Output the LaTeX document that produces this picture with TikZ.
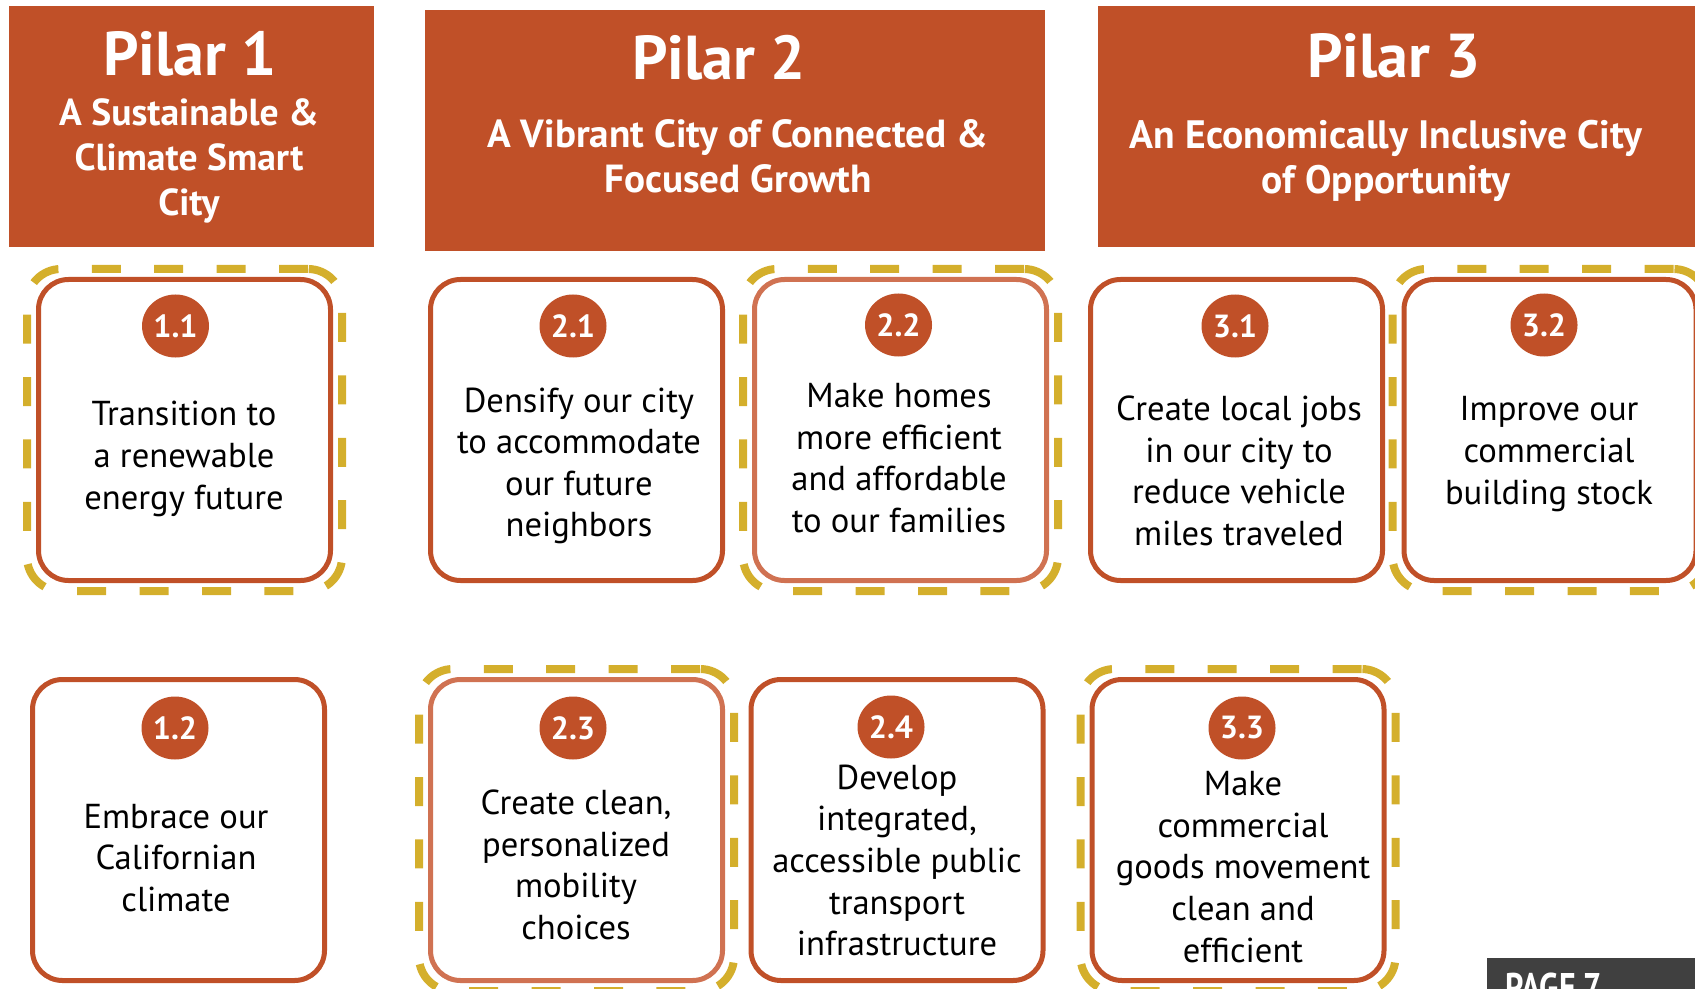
\documentclass[tikz,border=0pt]{standalone}
\usepackage{fontspec}
\setmainfont{PT Sans}
\usetikzlibrary{shapes.geometric,fit}
\definecolor{rust}{RGB}{192,80,40}
\definecolor{rustlight}{RGB}{208,114,82}
\definecolor{gold}{RGB}{212,175,44}
\definecolor{tabgray}{RGB}{64,64,64}

\begin{document}
\begin{tikzpicture}[x=0.5pt, y=-0.5pt,
    pillar/.style={rectangle, fill=rust, inner sep=0pt, minimum height=120.5pt},
    ptitle/.style={text=white, inner sep=0pt, font=\bfseries\fontsize{31}{34}\selectfont},
    psub/.style={text=white, inner sep=0pt, align=center, font=\bfseries\fontsize{18.8}{22.3}\selectfont},
    goal/.style={rectangle, draw=rust, line width=2.5pt, fill=white, rounded corners=15pt, minimum width=146pt, minimum height=150.5pt, inner sep=0pt},
    goalsoft/.style={goal, draw=rustlight},
    num/.style={ellipse, fill=rust, text=white, inner sep=0pt, minimum width=33.5pt, minimum height=31.5pt, font=\bfseries\fontsize{16}{16}\selectfont},
    desc/.style={align=center, inner sep=0pt, font=\fontsize{17.3}{20.8}\selectfont},
    focus/.style={draw=gold, line width=4pt, dash pattern=on 14.5pt off 16.7pt, rounded corners=17pt, inner xsep=4.5pt, inner ysep=4pt}
]
    \useasboundingbox (0,0) rectangle (1695,989);
    \clip (0,0) rectangle (1695,989);

    % pillar headers
    \node[pillar, minimum width=182.5pt] (p1) at (191.5,126.5) {};
    \node[pillar, minimum width=310pt] (p2) at (735,131) {};
    \node[pillar, minimum width=311pt] (p3) at (1409,127) {};

    \node[ptitle] (t1) at (190,54) {Pilar 1};
    \node[ptitle] (t2) at (719,58) {Pilar 2};
    \node[ptitle] (t3) at (1394,56) {Pilar 3};

    \node[psub] (s1) at (189,161) {A Sustainable \&\\Climate Smart\\City};
    \node[psub, font=\bfseries\fontsize{19.6}{22.3}\selectfont] (s2) at (738,156) {A Vibrant City of Connected \&\\Focused Growth};
    \node[psub, font=\bfseries\fontsize{19.8}{22.3}\selectfont] (s3) at (1386,161) {An Economically Inclusive City\\of Opportunity};

    % goal boxes
    \node[goal] (b11) at (184.5,430) {};
    \node[goal] (b21) at (576.5,430) {};
    \node[goalsoft] (b22) at (900.5,430) {};
    \node[goal] (b31) at (1236.5,430) {};
    \node[goal] (b32) at (1550,430) {};
    \node[goal] (b12) at (178.5,830) {};
    \node[goalsoft] (b23) at (576.5,830) {};
    \node[goal] (b24) at (897,830) {};
    \node[goal] (b33) at (1238,830) {};

    % dashed focus frames
    \node[focus, fit=(b11)] (f11) {};
    \node[focus, fit=(b22)] (f22) {};
    \node[focus, fit=(b32)] (f32) {};
    \node[focus, fit=(b23)] (f23) {};
    \node[focus, fit=(b33)] (f33) {};

    % numbers
    \node[num] (n11) at (175.5,326) {1.1};
    \node[num] (n21) at (573,326) {2.1};
    \node[num] (n22) at (898.5,325) {2.2};
    \node[num] (n31) at (1235,326) {3.1};
    \node[num] (n32) at (1544,325) {3.2};
    \node[num] (n12) at (175,728) {1.2};
    \node[num] (n23) at (573,728) {2.3};
    \node[num] (n24) at (891,727) {2.4};
    \node[num] (n33) at (1242,728) {3.3};

    % descriptions
    \node[desc] (d11) at (184,459) {Transition to\\a renewable\\energy future};
    \node[desc] (d21) at (579,466) {Densify our city\\to accommodate\\our future\\neighbors};
    \node[desc] (d22) at (899,458) {Make homes\\more efficient\\and affordable\\to our families};
    \node[desc] (d31) at (1239,471) {Create local jobs\\in our city to\\reduce vehicle\\miles traveled};
    \node[desc] (d32) at (1549,454) {Improve our\\commercial\\building stock};
    \node[desc] (d12) at (176,858) {Embrace our\\Californian\\climate};
    \node[desc] (d23) at (576,865) {Create clean,\\personalized\\mobility\\choices};
    \node[desc] (d24) at (897,860.5) {Develop\\integrated,\\accessible public\\transport\\infrastructure};
    \node[desc] (d33) at (1243,867) {Make\\commercial\\goods movement\\clean and\\efficient};

    % page tab
    \node[fill=tabgray, anchor=north west, minimum width=110pt, minimum height=20pt, inner sep=0pt] (tab) at (1487,958) {};
    \node[text=white, anchor=base west, inner sep=0pt, font=\bfseries\fontsize{20}{20}\selectfont] (tabtext) at (1505,1001) {\scalebox{0.8}[1]{PAGE 7}};
\end{tikzpicture}
\end{document}
